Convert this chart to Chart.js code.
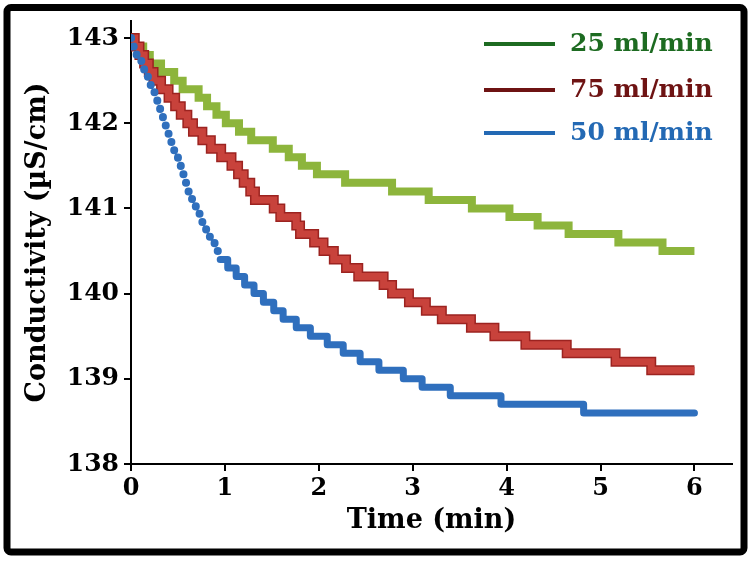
<!DOCTYPE html>
<html>
<head>
<meta charset="utf-8">
<script src="https://cdn.jsdelivr.net/npm/chart.js@4/dist/chart.umd.min.js"></script>
<style>
  html, body { margin: 0; padding: 0; background: #fff; }
  #wrap { position: relative; width: 753px; height: 562px; }
</style>
</head>
<body>
<div id="wrap"><canvas id="chart" width="753" height="562"></canvas></div>
<script>
// Time (min) where each 0.1 uS/cm level starts; the last entry closes the run at 6 min
const time25 = [0, 0.03, 0.13, 0.20, 0.32, 0.46, 0.55, 0.72, 0.81, 0.91, 1.01, 1.15, 1.28,
  1.51, 1.68, 1.82, 1.98, 2.28, 2.78, 3.17, 3.63, 4.03, 4.33, 4.66, 5.19, 5.66, 6.0];
const cond25 = [143.0, 142.9, 142.8, 142.7, 142.6, 142.5, 142.4, 142.3, 142.2, 142.1, 142.0, 141.9, 141.8,
  141.7, 141.6, 141.5, 141.4, 141.3, 141.2, 141.1, 141.0, 140.9, 140.8, 140.7, 140.6, 140.5, 140.5];

const time75 = [0, 0.04, 0.09, 0.14, 0.19, 0.24, 0.32, 0.40, 0.47, 0.53, 0.60, 0.66, 0.76, 0.85,
  0.96, 1.07, 1.14, 1.20, 1.27, 1.32, 1.52, 1.59, 1.76, 1.80, 1.95, 2.05, 2.16, 2.29, 2.42,
  2.69, 2.78, 2.96, 3.14, 3.31, 3.62, 3.87, 4.20, 4.64, 5.16, 5.54, 6.0];
const cond75 = [143.0, 142.9, 142.8, 142.7, 142.6, 142.5, 142.4, 142.3, 142.2, 142.1, 142.0, 141.9, 141.8, 141.7,
  141.6, 141.5, 141.4, 141.3, 141.2, 141.1, 141.0, 140.9, 140.8, 140.7, 140.6, 140.5, 140.4, 140.3, 140.2,
  140.1, 140.0, 139.9, 139.8, 139.7, 139.6, 139.5, 139.4, 139.3, 139.2, 139.1, 139.1];

const time50 = [0, 0.02, 0.06, 0.11, 0.14, 0.18, 0.21, 0.25, 0.28, 0.31, 0.34, 0.37, 0.40, 0.43,
  0.46, 0.50, 0.53, 0.57, 0.61, 0.65, 0.69, 0.73, 0.76, 0.80, 0.84, 0.89, 0.95, 1.03, 1.12,
  1.21, 1.31, 1.41, 1.52, 1.62, 1.76, 1.91, 2.09, 2.26, 2.44, 2.64, 2.90, 3.10, 3.40, 3.94, 4.82, 6.0];
const cond50 = [143.0, 142.9, 142.8, 142.7, 142.6, 142.5, 142.4, 142.3, 142.2, 142.1, 142.0, 141.9, 141.8, 141.7,
  141.6, 141.5, 141.4, 141.3, 141.2, 141.1, 141.0, 140.9, 140.8, 140.7, 140.6, 140.5, 140.4, 140.3, 140.2,
  140.1, 140.0, 139.9, 139.8, 139.7, 139.6, 139.5, 139.4, 139.3, 139.2, 139.1, 139.0, 138.9, 138.8, 138.7, 138.6, 138.6];

const seriesLabels = ['25 ml/min', '75 ml/min', '50 ml/min'];
const lineColors = ['#8db53c', '#c8423b', '#2f6fbd'];
const legendColors = ['#1d6b21', '#6e1313', '#2369b4'];

const xTicks = [0, 1, 2, 3, 4, 5, 6];
const yTicks = [138, 139, 140, 141, 142, 143];

const SERIF = "'DejaVu Serif', 'Liberation Serif', serif";

const toPoints = (times, values) => times.map((t, i) => ({ x: t, y: values[i] }));

// white page, black frame and the legend in the top right corner
const framePlugin = {
  id: 'frame',
  beforeDraw(chart) {
    const { ctx, width, height } = chart;
    ctx.save();
    ctx.fillStyle = '#fff';
    ctx.fillRect(0, 0, width, height);
    ctx.restore();
  },
  afterDraw(chart) {
    const ctx = chart.ctx;
    ctx.save();
    ctx.strokeStyle = '#000';
    ctx.lineWidth = 7;
    ctx.beginPath();
    ctx.roundRect(7, 7.5, 737, 544.5, 4);
    ctx.stroke();

    const rows = [44, 90, 133];
    ctx.font = "bold 25px " + SERIF;
    ctx.textBaseline = 'middle';
    seriesLabels.forEach((label, i) => {
      ctx.strokeStyle = legendColors[i];
      ctx.lineWidth = 4;
      ctx.beginPath();
      ctx.moveTo(484, rows[i]);
      ctx.lineTo(555, rows[i]);
      ctx.stroke();
      ctx.fillStyle = legendColors[i];
      ctx.fillText(label, 570, rows[i]);
    });
    ctx.restore();
  }
};

const axisCommon = {
  border: { display: true, color: '#000', width: 2 },
  grid: { drawOnChartArea: false, drawTicks: true, tickLength: 7, color: '#000', lineWidth: 2 },
};

// steep part of the 50 ml/min curve shows up as separate dots
const isSteep = ctx => ctx.p1.parsed.x - ctx.p0.parsed.x < 0.07;

new Chart(document.getElementById('chart'), {
  type: 'line',
  data: {
    datasets: [
      {
        label: seriesLabels[0],
        data: toPoints(time25, cond25),
        borderColor: lineColors[0],
        borderWidth: 8,
        stepped: true,
        borderJoinStyle: 'miter',
        pointRadius: 0,
        order: 3,
      },
      {
        label: seriesLabels[1],
        data: toPoints(time75, cond75),
        borderColor: lineColors[1],
        borderWidth: 7,
        stepped: true,
        borderJoinStyle: 'miter',
        pointRadius: 0,
        order: 2,
      },
      {
        label: seriesLabels[2],
        data: toPoints(time50, cond50),
        borderColor: lineColors[2],
        borderWidth: 7,
        stepped: true,
        borderCapStyle: 'round',
        borderJoinStyle: 'round',
        pointRadius: 0,
        order: 1,
        segment: {
          borderDash: ctx => (isSteep(ctx) ? [0.1, 11] : undefined),
          borderWidth: ctx => (isSteep(ctx) ? 8 : undefined),
        },
      },
      {
        // darker rim under the 75 ml/min band
        label: '',
        data: toPoints(time75, cond75),
        borderColor: '#9c2320',
        borderWidth: 10,
        stepped: true,
        borderJoinStyle: 'miter',
        pointRadius: 0,
        order: 2.5,
      },
    ],
  },
  options: {
    responsive: false,
    animation: false,
    devicePixelRatio: 1,
    layout: { padding: { left: 10, right: 21, top: 21, bottom: 10 } },
    plugins: {
      legend: { display: false },
      tooltip: { enabled: false },
    },
    scales: {
      x: {
        type: 'linear',
        min: 0,
        max: 6.4,
        ...axisCommon,
        afterFit: s => { s.height = 88; },
        afterBuildTicks: s => { s.ticks = xTicks.map(v => ({ value: v })); },
        ticks: { color: '#000', padding: 3, font: { family: SERIF, size: 24, weight: 'bold' } },
        title: {
          display: true,
          text: 'Time (min)',
          color: '#000',
          padding: { top: 0, bottom: 15 },
          font: { family: SERIF, size: 27, weight: 'bold' },
        },
      },
      y: {
        min: 138,
        max: 143.2,
        ...axisCommon,
        afterFit: s => { s.width = 121; },
        afterBuildTicks: s => { s.ticks = yTicks.map(v => ({ value: v })); },
        ticks: { color: '#000', padding: 5, font: { family: SERIF, size: 25, weight: 'bold' } },
        title: {
          display: true,
          text: 'Conductivity (µS/cm)',
          color: '#000',
          padding: { top: 12, bottom: 0 },
          font: { family: SERIF, size: 27, weight: 'bold' },
        },
      },
    },
  },
  plugins: [framePlugin],
});
</script>
</body>
</html>
